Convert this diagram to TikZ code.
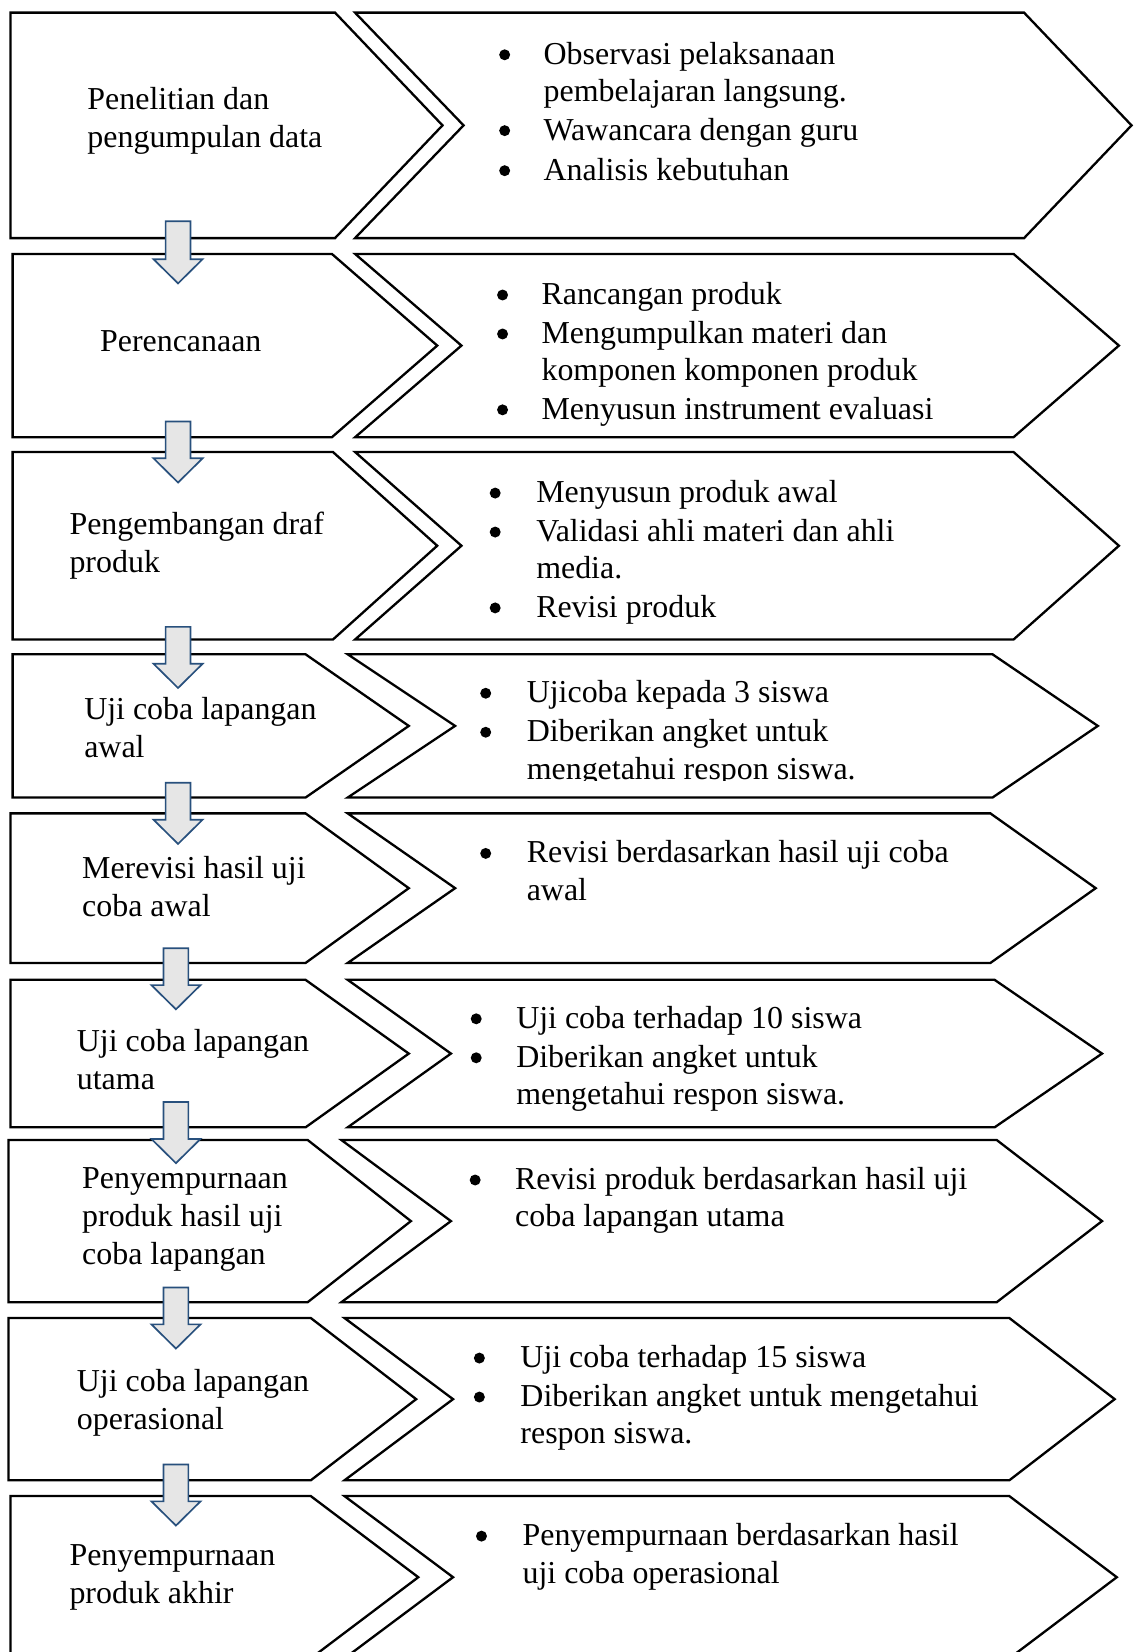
\documentclass[tikz,border=0pt]{standalone}
\usepackage{fontspec}
\setmainfont{Liberation Serif}
\definecolor{arrowblue}{RGB}{40,80,125}
\definecolor{arrowfill}{RGB}{230,230,230}
\tikzset{
  shapeline/.style={draw=black, line width=1.1pt, line join=miter, fill=white},
  downarrow/.style={draw=arrowblue, fill=arrowfill, line width=0.8pt, line join=miter},
  txt/.style={inner sep=0pt, outer sep=0pt, align=left, anchor=base west,
    font=\fontsize{15.15pt}{17.75pt}\selectfont},
  txtL/.style={txt, font=\fontsize{15.15pt}{18pt}\selectfont},
  dot/.style={fill=black},
}
% top, bottom, left x, left corner, left tip, right left, notch, right corner, right tip
\newcommand\chevrow[9]{%
  \draw[shapeline] (#3,#1) -- (#4,#1) -- (#5,{(#1+#2)/2}) -- (#4,#2) -- (#3,#2) -- cycle;
  \draw[shapeline] (#6,#1) -- (#8,#1) -- (#9,{(#1+#2)/2}) -- (#8,#2) -- (#6,#2) -- (#7,{(#1+#2)/2}) -- cycle;
}
% x, top, tip
\newcommand\downarr[3]{%
  \draw[downarrow] ({#1-11.8},#2) -- ({#1+11.8},#2) -- ({#1+11.8},{#3-23}) -- ({#1+23.3},{#3-23})
    -- (#1,#3) -- ({#1-23.3},{#3-23}) -- ({#1-11.8},{#3-23}) -- cycle;
}
% name, bullet x, text x, first baseline, extra lines, text
\newcommand\bitem[6]{%
  \fill[dot] (#2,{#4-9}) circle[radius=2.6pt];
  \node[txt] (#1) at (#3,{#4+35.5*#5}) {#6};
}
\begin{document}
\begin{tikzpicture}[x=0.5pt,y=-0.5pt]
\useasboundingbox (0,0) rectangle (1076,1568);
\clip (0,0) rectangle (1076,1568);
\fill[white] (0,0) rectangle (1076,1568);

\chevrow{12}{226}{10}{318}{420}{337}{440}{972}{1074}
\chevrow{241}{415}{12}{315}{415}{337}{438}{962}{1062}
\chevrow{429}{607}{12}{316}{415}{337}{438}{962}{1062}
\chevrow{621}{757}{12}{290}{388}{330}{432}{942}{1042}
\chevrow{772}{914}{10}{290}{388}{330}{432}{940}{1040}
\chevrow{930}{1070}{10}{290}{388}{330}{428}{944}{1046}
\chevrow{1082}{1236}{8}{292}{390}{324}{428}{946}{1046}
\chevrow{1251}{1405}{8}{295}{395}{327}{430}{958}{1058}
\chevrow{1420}{1574}{10}{295}{397}{327}{430}{958}{1060}

% left labels (anchored at the baseline of the last line)
\node[txtL] (l1) at (83,140) {Penelitian dan\\pengumpulan data};
\node[txtL] (l2) at (95,334) {Perencanaan};
\node[txtL] (l3) at (66,543) {Pengembangan draf\\produk};
\node[txtL] (l4) at (80,719) {Uji coba lapangan\\awal};
\node[txtL] (l5) at (78,870) {Merevisi hasil uji\\coba awal};
\node[txtL] (l6) at (73,1034) {Uji coba lapangan\\utama};
\node[txtL] (l7) at (78,1200) {Penyempurnaan\\produk hasil uji\\coba lapangan};
\node[txtL] (l8) at (73,1357) {Uji coba lapangan\\operasional};
\node[txtL] (l9) at (66,1522) {Penyempurnaan\\produk akhir};

% right bullet items
\bitem{r1a}{479}{516}{61}{1}{Observasi pelaksanaan\\pembelajaran langsung.}
\bitem{r1b}{479}{516}{133}{0}{Wawancara dengan guru}
\bitem{r1c}{479}{516}{171}{0}{Analisis kebutuhan}

\bitem{r2a}{477}{514}{289}{0}{Rancangan produk}
\bitem{r2b}{477}{514}{326}{1}{Mengumpulkan materi dan\\komponen komponen produk}
\bitem{r2c}{477}{514}{398}{0}{Menyusun instrument evaluasi}

\bitem{r3a}{470}{509}{477}{0}{Menyusun produk awal}
\bitem{r3b}{470}{509}{514}{1}{Validasi ahli materi dan ahli\\media.}
\bitem{r3c}{470}{509}{586}{0}{Revisi produk}

\bitem{r4a}{461}{500}{667}{0}{Ujicoba kepada 3 siswa}
\begin{scope}
\clip (440,600) rectangle (1000,741);
\bitem{r4b}{461}{500}{704}{1}{Diberikan angket untuk\\mengetahui respon siswa.}
\end{scope}

\bitem{r5a}{461}{500}{819}{1}{Revisi berdasarkan hasil uji coba\\awal}

\bitem{r6a}{452}{490}{976}{0}{Uji coba terhadap 10 siswa}
\bitem{r6b}{452}{490}{1013}{1}{Diberikan angket untuk\\mengetahui respon siswa.}

\bitem{r7a}{451}{489}{1129}{1}{Revisi produk berdasarkan hasil uji\\coba lapangan utama}

\bitem{r8a}{455}{494}{1298}{0}{Uji coba terhadap 15 siswa}
\bitem{r8b}{455}{494}{1335}{1}{Diberikan angket untuk mengetahui\\respon siswa.}

\bitem{r9a}{457}{496}{1467}{1}{Penyempurnaan berdasarkan hasil\\uji coba operasional}

% down arrows
\downarr{169}{210}{269}
\downarr{169}{400}{458}
\downarr{169}{595}{653}
\downarr{169}{743}{801}
\downarr{167}{900}{958}
\downarr{167}{1046}{1104}
\downarr{167}{1222}{1280}
\downarr{167}{1390}{1448}
\end{tikzpicture}
\end{document}
